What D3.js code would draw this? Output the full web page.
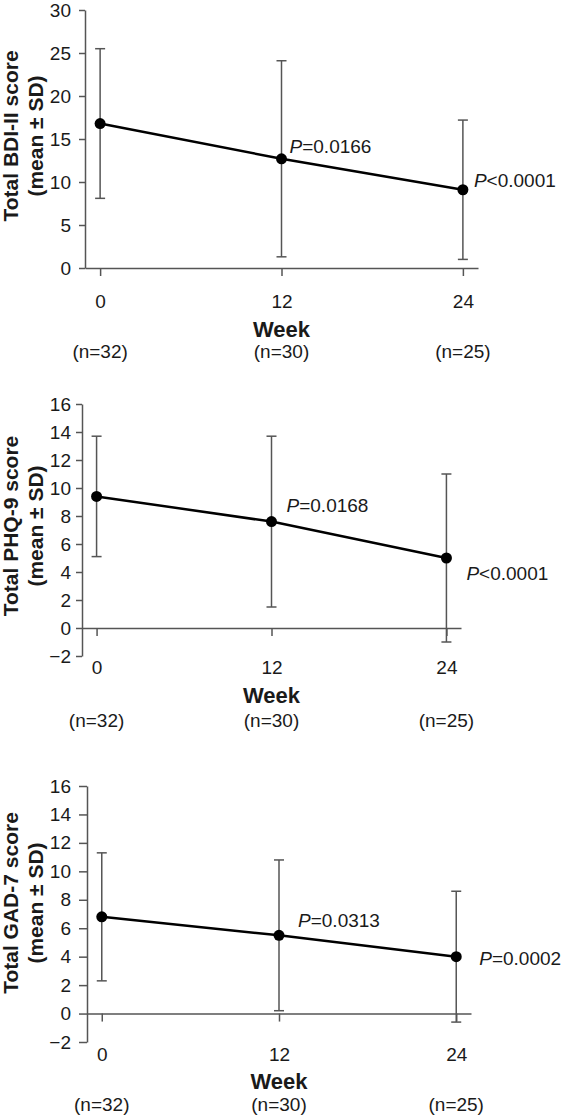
<!DOCTYPE html>
<html>
<head>
<meta charset="utf-8">
<script src="https://cdn.jsdelivr.net/npm/d3@7"></script>
<style>
  html, body { margin: 0; padding: 0; background: #fff; }
  svg { display: block; }
  text { font-family: "Liberation Sans", Arial, Helvetica, sans-serif; }
</style>
</head>
<body>
<svg id="chart" width="562" height="1117"></svg>
<script>
// ---- data ----
const weeks = [0, 12, 24];
const weekLabels = ["0", "12", "24"];
const nLabels = ["(n=32)", "(n=30)", "(n=25)"];

const bdiMean = [16.8, 12.7, 9.1];
const bdiSD   = [8.7, 11.4, 8.1];
const bdiTicks = [0, 5, 10, 15, 20, 25, 30];
const bdiP = ["", "=0.0166", "<0.0001"];

const phqMean = [9.4, 7.6, 5.0];
const phqSD   = [4.3, 6.1, 6.0];
const phqTicks = [-2, 0, 2, 4, 6, 8, 10, 12, 14, 16];
const phqP = ["", "=0.0168", "<0.0001"];

const gadMean = [6.8, 5.5, 4.0];
const gadSD   = [4.5, 5.3, 4.6];
const gadTicks = [-2, 0, 2, 4, 6, 8, 10, 12, 14, 16];
const gadP = ["", "=0.0313", "=0.0002"];

const yTitles = ["Total BDI-II score", "Total PHQ-9 score", "Total GAD-7 score"];
const yTitle2 = "(mean \u00B1 SD)";

// ---- layout (positions only) ----
const panels = [
  { mean: bdiMean, sd: bdiSD, ticks: bdiTicks, p: bdiP, title: yTitles[0],
    x0: 85, x1: 478, yTop: 10, yBot: 268, labelCY: 136, xPad: 19,
    yTick: 6, yPad: 8, weekDY: 61, nDY: 83,
    pOff: [null, [8, -6], [11, -3]] },
  { mean: phqMean, sd: phqSD, ticks: phqTicks, p: phqP, title: yTitles[1],
    x0: 82, x1: 461, yTop: 404, yBot: 656, labelCY: 526, xPad: 25,
    yTick: 6, yPad: 5, weekDY: 67, nDY: 92,
    pOff: [null, [15, -10], [20, 22]] },
  { mean: gadMean, sd: gadSD, ticks: gadTicks, p: gadP, title: yTitles[2],
    x0: 87, x1: 471, yTop: 786, yBot: 1042, labelCY: 903, xPad: 26,
    yTick: 8, yPad: 8, weekDY: 68, nDY: 91,
    pOff: [null, [19, -8], [23, 8]] }
];

const svg = d3.select("#chart");
const axisColor = "#555";
const textColor = "#1a1a1a";

panels.forEach(P => {
  const g = svg.append("g");
  const ext = d3.extent(P.ticks);
  const x = d3.scaleLinear().domain([-1, 25]).range([P.x0, P.x1]);
  const y = d3.scaleLinear().domain(ext).range([P.yBot, P.yTop]);

  // y axis
  const ya = g.append("g").attr("transform", `translate(${P.x0},0)`)
    .call(d3.axisLeft(y).tickValues(P.ticks).tickSize(P.yTick).tickSizeOuter(0).tickPadding(P.yPad));
  ya.select(".domain").attr("stroke", axisColor).attr("stroke-width", 1.5);
  ya.selectAll(".tick line").attr("stroke", axisColor).attr("stroke-width", 1.5);
  ya.selectAll(".tick text").attr("fill", textColor)
    .style("font-size", "19px").style("font-family", "Liberation Sans, Arial, sans-serif");

  // x axis at y = 0
  const y0 = y(0);
  const xa = g.append("g").attr("transform", `translate(0,${y0})`)
    .call(d3.axisBottom(x).tickValues(weeks).tickFormat((d, i) => weekLabels[i])
      .tickSize(8).tickSizeOuter(0).tickPadding(P.xPad));
  xa.select(".domain").attr("stroke", axisColor).attr("stroke-width", 1.5);
  xa.selectAll(".tick line").attr("stroke", axisColor).attr("stroke-width", 1.5);
  xa.selectAll(".tick text").attr("fill", textColor)
    .style("font-size", "19px").style("font-family", "Liberation Sans, Arial, sans-serif");

  const xc = x(12);
  g.append("text").attr("x", xc).attr("y", y0 + P.weekDY).attr("dy", "0.35em")
    .attr("text-anchor", "middle").attr("fill", textColor)
    .style("font-size", "22px").style("font-weight", "bold").text("Week");

  g.selectAll(".nlab").data(weeks).enter().append("text")
    .attr("x", d => x(d)).attr("y", y0 + P.nDY).attr("dy", "0.35em")
    .attr("text-anchor", "middle").attr("fill", textColor)
    .style("font-size", "19px").text((d, i) => nLabels[i]);

  // y title
  const yt = g.append("text").attr("transform", `translate(18,${P.labelCY}) rotate(-90)`)
    .attr("text-anchor", "middle").attr("fill", textColor)
    .style("font-size", "21px").style("font-weight", "bold");
  yt.append("tspan").attr("x", 0).attr("y", 0).text(P.title);
  yt.append("tspan").attr("x", 0).attr("y", 25).text(yTitle2);

  const pts = weeks.map((w, i) => ({ w, m: P.mean[i], s: P.sd[i], p: P.p[i], off: P.pOff[i] }));

  // error bars
  const eb = g.selectAll(".eb").data(pts).enter().append("g")
    .attr("stroke", axisColor).attr("stroke-width", 1.5);
  eb.append("line").attr("x1", d => x(d.w)).attr("x2", d => x(d.w))
    .attr("y1", d => y(d.m + d.s)).attr("y2", d => y(d.m - d.s));
  eb.append("line").attr("x1", d => x(d.w) - 5).attr("x2", d => x(d.w) + 5)
    .attr("y1", d => y(d.m + d.s)).attr("y2", d => y(d.m + d.s));
  eb.append("line").attr("x1", d => x(d.w) - 5).attr("x2", d => x(d.w) + 5)
    .attr("y1", d => y(d.m - d.s)).attr("y2", d => y(d.m - d.s));

  // mean line
  g.append("path").datum(pts)
    .attr("d", d3.line().x(d => x(d.w)).y(d => y(d.m)))
    .attr("fill", "none").attr("stroke", "#000").attr("stroke-width", 2.5);
  g.selectAll(".dot").data(pts).enter().append("circle")
    .attr("cx", d => x(d.w)).attr("cy", d => y(d.m)).attr("r", 5.5).attr("fill", "#000");

  // P labels
  pts.filter(d => d.p).forEach(d => {
    const t = g.append("text").attr("x", x(d.w) + d.off[0]).attr("y", y(d.m) + d.off[1])
      .attr("fill", textColor).style("font-size", "19px");
    t.append("tspan").style("font-style", "italic").text("P");
    t.append("tspan").text(d.p);
  });
});
</script>
</body>
</html>
